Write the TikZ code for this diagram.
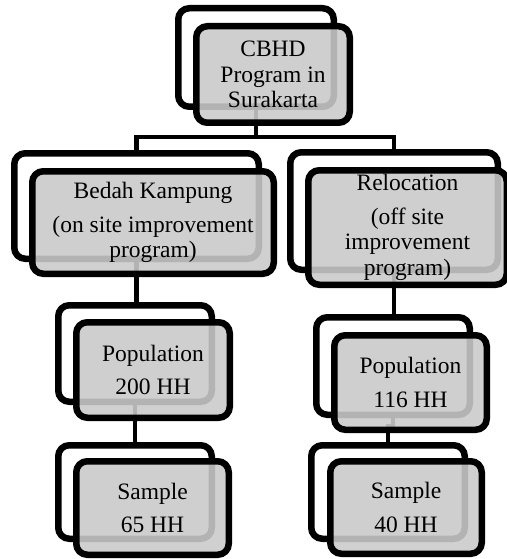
\documentclass[tikz,border=0pt]{standalone}
\usepackage{fontspec}
\setmainfont{Liberation Serif}
\usepackage{xcolor}
\usepackage{tikz}
\usetikzlibrary{positioning}
\definecolor{boxgray}{HTML}{CACACA}
\newcommand{\boxfont}{\fontsize{23.5pt}{25.5pt}\selectfont}
\tikzset{
  backbox/.style={draw=black,line width=6.5pt,rounded corners=11pt,fill=white,inner sep=0pt},
  frontbox/.style={backbox,fill=boxgray,fill opacity=0.89,text opacity=1,align=center,font=\boxfont},
  conn/.style={draw=black,line width=4.5pt},
}

\begin{document}
\begin{tikzpicture}[x=1pt,y=-1pt]
  \useasboundingbox (0,0) rectangle (506,559);
  % back boxes
  \node[backbox,minimum width=155.5pt,minimum height=98.5pt] (nTopB) at (256,57.5) {};
  \node[backbox,minimum width=244.5pt,minimum height=105.5pt] (nOnB) at (136.5,206) {};
  \node[backbox,minimum width=207.5pt,minimum height=117.5pt] (nOffB) at (394,211) {};
  \node[backbox,minimum width=153.5pt,minimum height=96.5pt] (nPopOnB) at (135,353.5) {};
  \node[backbox,minimum width=153.5pt,minimum height=97.5pt] (nPopOffB) at (393,366) {};
  \node[backbox,minimum width=153.5pt,minimum height=93.5pt] (nSmpOnB) at (135,492) {};
  \node[backbox,minimum width=153.5pt,minimum height=93.5pt] (nSmpOffB) at (388,492) {};
  % connectors
  \coordinate (bus) at (256,137);
  \draw[conn] (nTopB.south) -- (bus);
  \draw[conn] (nOnB.north) |- (bus) -| (nOffB.north);
  \draw[conn] (nOnB.south) -- (nOnB.south |- nPopOnB.north);
  \draw[conn] (nOffB.south) -- (nOffB.south |- nPopOffB.north);
  \draw[conn] (nPopOnB.south) -- (nPopOnB.south |- nSmpOnB.north);
  \draw[conn] (nPopOffB.south) -- ++(0,8) -| (nSmpOffB.north);
  % front boxes
  \node[frontbox,minimum width=153.5pt,minimum height=96.5pt] (nTopF) at (273,74.5) {CBHD\\Program in\\Surakarta};
  \node[frontbox,minimum width=241.5pt,minimum height=102.5pt] (nOnF) at (153,222.5) {Bedah Kampung\\[8pt](on site improvement\\program)};
  \node[frontbox,minimum width=198.5pt,minimum height=114.5pt] (nOffF) at (407.5,227.5) {Relocation\\[8pt](off site\\improvement\\program)};
  \node[frontbox,minimum width=153.5pt,minimum height=95.5pt] (nPopOnF) at (153,370) {Population\\[8pt]200 HH};
  \node[frontbox,minimum width=152.5pt,minimum height=94.5pt] (nPopOffF) at (410.5,382.5) {Population\\[8pt]116 HH};
  \node[frontbox,minimum width=152.5pt,minimum height=93.5pt] (nSmpOnF) at (152.5,508) {Sample\\[8pt]65 HH};
  \node[frontbox,minimum width=151.5pt,minimum height=92.5pt] (nSmpOffF) at (406,507.5) {Sample\\[8pt]40 HH};
\end{tikzpicture}
\end{document}
